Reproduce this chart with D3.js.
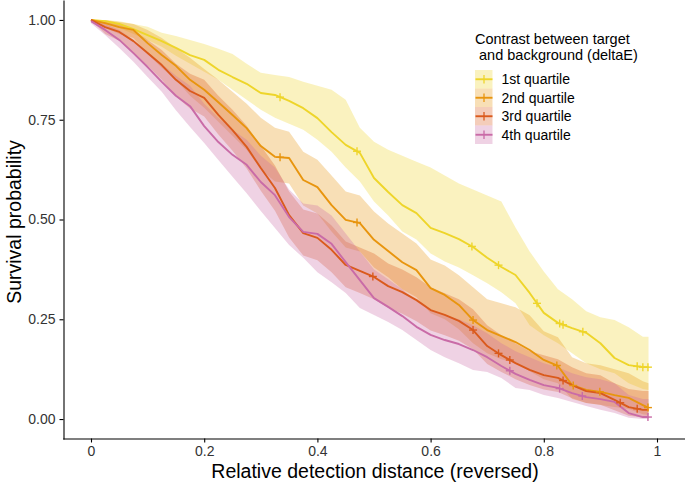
<!DOCTYPE html>
<html><head><meta charset="utf-8">
<script src="https://cdn.jsdelivr.net/npm/d3@7"></script>
<style>body{margin:0;background:#fff}svg{display:block}text{font-family:Arial,"Liberation Sans",sans-serif}</style>
</head><body>
<svg id="chart" width="685" height="485"></svg>
<script>
// ---- data ----
const timeGrid = [0,0.025,0.05,0.075,0.1,0.125,0.15,0.175,0.2,0.225,0.25,0.275,0.3,0.325,0.35,0.375,0.4,0.425,0.45,0.475,0.5,0.525,0.55,0.575,0.6,0.625,0.65,0.675,0.7,0.725,0.75,0.775,0.8,0.825,0.85,0.875,0.9,0.925,0.95,0.975,0.985];
const groupNames = ["1st quartile","2nd quartile","3rd quartile","4th quartile"];

const q1Surv  = [1.0,.997,.99,.977,.962,.947,.93,.912,.90,.875,.857,.84,.817,.812,.797,.779,.754,.719,.687,.667,.604,.569,.536,.516,.479,.466,.451,.431,.404,.381,.361,.316,.266,.241,.228,.216,.19,.153,.135,.13,.13];
const q1Upper = [1,1,.997,.99,.983,.968,.96,.95,.94,.928,.915,.89,.868,.862,.857,.845,.835,.825,.80,.73,.695,.675,.66,.645,.63,.61,.59,.575,.56,.545,.48,.42,.37,.325,.30,.27,.255,.248,.23,.206,.206];
const q1Lower = [1,.99,.98,.965,.95,.933,.91,.89,.87,.85,.825,.80,.775,.755,.74,.725,.70,.67,.63,.595,.545,.51,.47,.45,.415,.395,.38,.36,.34,.318,.29,.235,.21,.19,.165,.14,.125,.115,.09,.075,.073];

const q2Surv  = [1.0,.992,.982,.975,.942,.912,.885,.85,.825,.794,.762,.729,.684,.657,.654,.599,.581,.536,.499,.491,.449,.421,.393,.373,.328,.311,.286,.248,.223,.208,.193,.173,.148,.133,.085,.073,.068,.06,.053,.035,.028];
const q2Upper = [1,1,.995,.99,.975,.955,.93,.905,.877,.85,.82,.79,.755,.73,.72,.67,.65,.61,.57,.56,.52,.49,.465,.44,.40,.385,.36,.33,.30,.29,.28,.26,.22,.205,.155,.14,.135,.125,.115,.095,.09];
const q2Lower = [1,.98,.965,.955,.915,.88,.85,.81,.78,.745,.71,.675,.625,.595,.59,.535,.515,.47,.43,.42,.38,.355,.325,.305,.265,.25,.225,.19,.165,.15,.14,.12,.10,.09,.05,.04,.035,.03,.025,.012,.01];

const q3Surv  = [1.0,.982,.97,.947,.917,.887,.85,.822,.805,.762,.724,.682,.629,.579,.511,.466,.454,.424,.386,.371,.356,.333,.318,.298,.273,.261,.246,.223,.183,.16,.14,.123,.11,.103,.085,.07,.065,.048,.03,.023,.023];
const q3Upper = [1,.995,.99,.975,.95,.925,.89,.865,.85,.81,.775,.735,.685,.635,.57,.525,.515,.485,.445,.43,.415,.39,.375,.355,.33,.315,.30,.275,.235,.21,.19,.17,.16,.15,.13,.115,.11,.09,.075,.07,.07];
const q3Lower = [1,.965,.948,.918,.885,.85,.808,.778,.758,.713,.672,.628,.572,.522,.455,.41,.398,.368,.33,.316,.30,.279,.264,.245,.222,.21,.196,.175,.138,.118,.1,.085,.074,.068,.052,.04,.036,.022,.008,.004,.004];

const q4Surv  = [.997,.975,.95,.917,.882,.845,.81,.784,.734,.694,.662,.637,.594,.561,.506,.469,.464,.439,.393,.348,.303,.281,.258,.231,.211,.198,.188,.173,.155,.133,.113,.098,.085,.078,.065,.055,.05,.043,.015,.005,.005];
const q4Upper = [1,.99,.975,.95,.92,.89,.86,.835,.79,.755,.725,.70,.66,.63,.575,.54,.535,.51,.465,.42,.375,.35,.325,.295,.275,.26,.25,.235,.215,.19,.17,.155,.14,.13,.115,.105,.1,.09,.06,.05,.05];
const q4Lower = [.992,.962,.93,.895,.857,.82,.774,.732,.692,.649,.607,.566,.521,.479,.436,.404,.368,.343,.316,.278,.261,.243,.223,.198,.173,.155,.14,.123,.118,.103,.078,.073,.06,.053,.043,.033,.023,.015,.003,0,0];

const censorQ1 = [0.334,0.47,0.673,0.72,0.788,0.828,0.834,0.869,0.965,0.975,0.984];
const censorQ2 = [0.334,0.47,0.675,0.823,0.852,0.899,0.984];
const censorQ3 = [0.498,0.675,0.72,0.74,0.834,0.935,0.965];
const censorQ4 = [0.74,0.828,0.868,0.984];

const xTickValues = [0,0.2,0.4,0.6,0.8,1];
const xTickLabels = ["0","0.2","0.4","0.6","0.8","1"];
const yTickValues = [0,0.25,0.5,0.75,1];
const yTickLabels = ["0.00","0.25","0.50","0.75","1.00"];

const lineColors = ["#EED52A","#E8950E","#DA5A1C","#C96BA7"];
const legendTitle = ["Contrast between target"," and background (deltaE)"];
const xTitle = "Relative detection distance (reversed)";
const yTitle = "Survival probability";

// ---- build ----
const series = [
  {surv:q1Surv, up:q1Upper, lo:q1Lower, cens:censorQ1},
  {surv:q2Surv, up:q2Upper, lo:q2Lower, cens:censorQ2},
  {surv:q3Surv, up:q3Upper, lo:q3Lower, cens:censorQ3},
  {surv:q4Surv, up:q4Upper, lo:q4Lower, cens:censorQ4}
];

const svg = d3.select("#chart");
const x = d3.scaleLinear().domain([-0.05,1.05]).range([62.7,685.3]);
const y = d3.scaleLinear().domain([-0.05,1.05]).range([439,0]);

const area = d3.area().curve(d3.curveLinear)
  .x((d,i)=>x(timeGrid[i])).y0(d=>y(d[0])).y1(d=>y(d[1]));
const line = d3.line().curve(d3.curveLinear)
  .x((d,i)=>x(timeGrid[i])).y(d=>y(d));

const plot = svg.append("g");
series.forEach((s,k)=>{
  const pts = s.up.map((u,i)=>[s.lo[i],u]);
  plot.append("path").attr("d",area(pts)).attr("fill",lineColors[k]).attr("fill-opacity",0.3);
});
series.forEach((s,k)=>{
  plot.append("path").attr("d",line(s.surv)).attr("fill","none")
    .attr("stroke",lineColors[k]).attr("stroke-width",1.9).attr("stroke-linejoin","round");
});
series.forEach((s,k)=>{
  const sv = d3.scaleLinear().domain(timeGrid).range(s.surv);
  s.cens.forEach(t=>{
    const cx = x(t), cy = y(sv(t));
    const g = plot.append("g").attr("stroke",lineColors[k]).attr("stroke-width",1.4);
    g.append("line").attr("x1",cx-4).attr("x2",cx+4).attr("y1",cy).attr("y2",cy);
    g.append("line").attr("x1",cx).attr("x2",cx).attr("y1",cy-4).attr("y2",cy+4);
  });
});

// axes
const ax = svg.append("g").attr("transform","translate(0,438.5)")
  .call(d3.axisBottom(x).tickValues(xTickValues).tickFormat((d,i)=>xTickLabels[i]).tickSize(4).tickSizeOuter(0).tickPadding(4));
const ay = svg.append("g").attr("transform","translate(63.5,0)")
  .call(d3.axisLeft(y).tickValues(yTickValues).tickFormat((d,i)=>yTickLabels[i]).tickSize(4).tickSizeOuter(0).tickPadding(4));
[ax,ay].forEach(a=>{
  a.selectAll("path,line").attr("stroke","#000").attr("stroke-width",1.1);
  a.selectAll("text").attr("font-size",14).attr("fill","#333").attr("font-family","Arial,'Liberation Sans',sans-serif");
});

svg.append("text").attr("x",375).attr("y",478).attr("text-anchor","middle")
  .attr("font-size",19.5).attr("fill","#000").text(xTitle);
svg.append("text").attr("transform","translate(21,222) rotate(-90)").attr("text-anchor","middle")
  .attr("font-size",19.5).attr("fill","#000").text(yTitle);

// legend
const lg = svg.append("g");
legendTitle.forEach((t,i)=>{
  lg.append("text").attr("x",475).attr("y",44+i*15.5).attr("font-size",14.5).attr("fill","#000")
    .attr("xml:space","preserve").style("white-space","pre").text(t);
});
groupNames.forEach((n,k)=>{
  const y0 = 70 + k*18.5;
  lg.append("rect").attr("x",475).attr("y",y0).attr("width",17.5).attr("height",18.5)
    .attr("fill",lineColors[k]).attr("fill-opacity",0.3);
  lg.append("line").attr("x1",475.5).attr("x2",492.5).attr("y1",y0+9.25).attr("y2",y0+9.25)
    .attr("stroke",lineColors[k]).attr("stroke-width",1.9);
  lg.append("line").attr("x1",484).attr("x2",484).attr("y1",y0+5).attr("y2",y0+13.5)
    .attr("stroke",lineColors[k]).attr("stroke-width",1.3);
  lg.append("text").attr("x",501.5).attr("y",y0+9.25).attr("dy","0.36em").attr("font-size",14)
    .attr("fill","#000").text(n);
});
</script>
</body></html>
